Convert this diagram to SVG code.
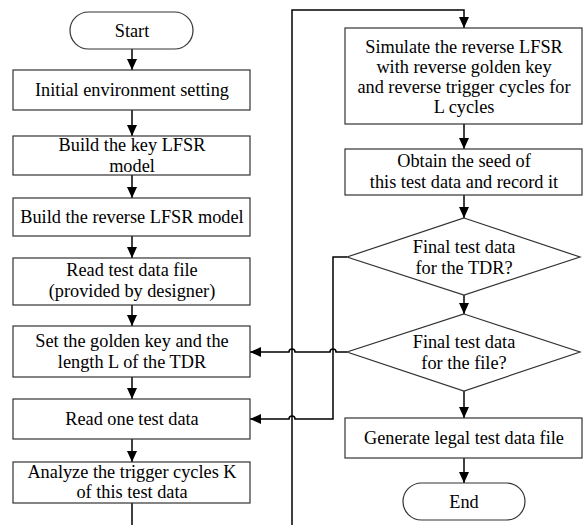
<svg xmlns="http://www.w3.org/2000/svg" width="587" height="525" viewBox="0 0 587 525">
<defs>
<marker id="ah" markerUnits="userSpaceOnUse" markerWidth="11" markerHeight="11" refX="11" refY="5" orient="auto">
<path d="M0,0 L11,5 L0,10 z" fill="#000"/>
</marker>
<style>
.box{fill:#fff;stroke:#333;stroke-width:1.2}
.t{font-family:"Liberation Serif","Times New Roman",serif;font-size:18.3px;fill:#000;text-anchor:middle}
.c{fill:none;stroke:#000;stroke-width:1.5}
</style>
</defs>
<rect width="587" height="525" fill="#fff"/>
<g id="connectors">
<line class="c" x1="132" y1="49" x2="132" y2="70" marker-end="url(#ah)"/>
<line class="c" x1="132" y1="110" x2="132" y2="136" marker-end="url(#ah)"/>
<line class="c" x1="132" y1="175" x2="132" y2="198" marker-end="url(#ah)"/>
<line class="c" x1="132" y1="236" x2="132" y2="258" marker-end="url(#ah)"/>
<line class="c" x1="132" y1="305" x2="132" y2="326" marker-end="url(#ah)"/>
<line class="c" x1="132" y1="377" x2="132" y2="399" marker-end="url(#ah)"/>
<line class="c" x1="132" y1="439" x2="132" y2="462" marker-end="url(#ah)"/>
<line class="c" x1="132" y1="503" x2="132" y2="525"/>
<polyline class="c" points="292,525 292,10 464,10 464,28" marker-end="url(#ah)"/>
<line class="c" x1="464" y1="124" x2="464" y2="149" marker-end="url(#ah)"/>
<line class="c" x1="464" y1="195" x2="464" y2="218" marker-end="url(#ah)"/>
<line class="c" x1="464" y1="295" x2="464" y2="314" marker-end="url(#ah)"/>
<line class="c" x1="464" y1="391" x2="464" y2="418" marker-end="url(#ah)"/>
<line class="c" x1="464" y1="458" x2="464" y2="483" marker-end="url(#ah)"/>
<path class="c" d="M347,257 H333 V419 H295 A3,3 0 0 0 289,419 H250" marker-end="url(#ah)"/>
<path class="c" d="M347,352 H336 A3,3 0 0 0 330,352 H295 A3,3 0 0 0 289,352 H250" marker-end="url(#ah)"/>
</g>
<g id="start"><rect class="box" x="70" y="12" width="123" height="37" rx="18.5"/><text class="t" x="132" y="37">Start</text></g>
<g id="init"><rect class="box" x="13" y="70" width="237" height="40"/><text class="t" x="132" y="96">Initial environment setting</text></g>
<g id="keylfsr"><rect class="box" x="13" y="136" width="237" height="39"/><text class="t" x="132" y="151">Build the key LFSR</text><text class="t" x="132" y="172">model</text></g>
<g id="revlfsr"><rect class="box" x="13" y="198" width="237" height="38"/><text class="t" x="132" y="223">Build the reverse LFSR model</text></g>
<g id="readfile"><rect class="box" x="13" y="258" width="237" height="47"/><text class="t" x="132" y="276">Read test data file</text><text class="t" x="132" y="297">(provided by designer)</text></g>
<g id="setkey"><rect class="box" x="13" y="326" width="237" height="51"/><text class="t" x="132" y="347">Set the golden key and the</text><text class="t" x="132" y="368">length L of the TDR</text></g>
<g id="readone"><rect class="box" x="13" y="399" width="237" height="40"/><text class="t" x="132" y="425">Read one test data</text></g>
<g id="analyze"><rect class="box" x="13" y="462" width="237" height="41"/><text class="t" x="132" y="478">Analyze the trigger cycles K</text><text class="t" x="132" y="498">of this test data</text></g>
<g id="simulate"><rect class="box" x="345" y="28" width="237" height="96"/><text class="t" x="464" y="53">Simulate the reverse LFSR</text><text class="t" x="464" y="73">with reverse golden key</text><text class="t" x="464" y="93">and reverse trigger cycles for</text><text class="t" x="464" y="113">L cycles</text></g>
<g id="obtain"><rect class="box" x="345" y="149" width="237" height="46"/><text class="t" x="464" y="167">Obtain the seed of</text><text class="t" x="464" y="188">this test data and record it</text></g>
<g id="tdr"><polygon class="box" points="464,218 580,257 464,295 347,257"/><text class="t" x="464" y="253">Final test data</text><text class="t" x="464" y="274">for the TDR?</text></g>
<g id="file"><polygon class="box" points="464,314 580,352 464,391 347,352"/><text class="t" x="464" y="348">Final test data</text><text class="t" x="464" y="369">for the file?</text></g>
<g id="generate"><rect class="box" x="345" y="418" width="237" height="40"/><text class="t" x="464" y="444">Generate legal test data file</text></g>
<g id="end"><rect class="box" x="403" y="483" width="122" height="37" rx="18.5"/><text class="t" x="464" y="508">End</text></g>
</svg>
